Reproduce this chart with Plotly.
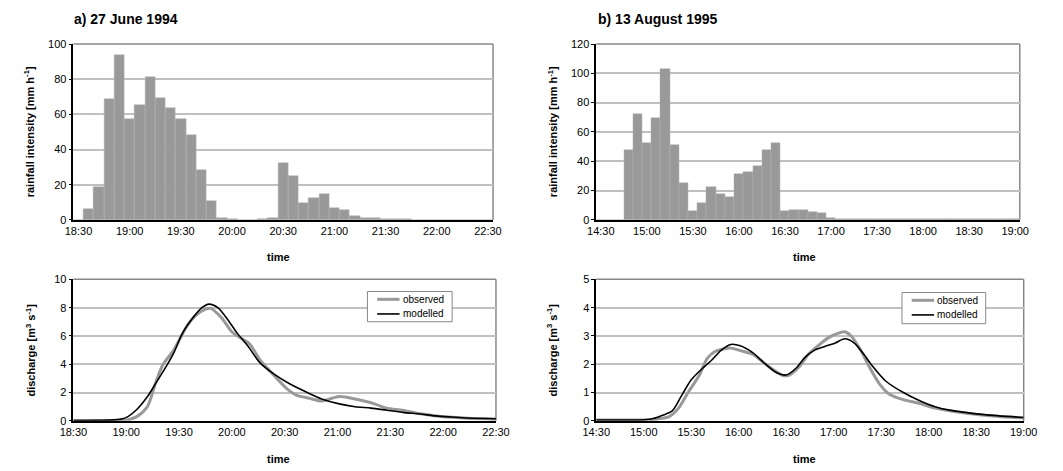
import plotly.graph_objects as go
import pandas as pd

W, H = 1063, 471

# ---------------- data ----------------
# rainfall, 6-minute intervals
rain_a_cat = [t.strftime("%H:%M") for t in pd.date_range("1994-06-27 18:30", "1994-06-27 22:30", freq="6min")]
rain_a = [0, 6, 18.5, 68.5, 93.5, 57.5, 65.5, 81.5, 69.5, 63.5, 57.5, 48, 28.5, 10.5, 1, 0.3,
          0.2, 0.2, 0.3, 1, 32.5, 25, 9.5, 12.5, 14.5, 7, 5.5, 2.2, 1.3, 1, 0.4,
          0.3, 0.3, 0.2, 0.2, 0.2, 0.2, 0.2, 0.2, 0.2, 0.2]
rain_b_cat = [t.strftime("%H:%M") for t in pd.date_range("1995-08-13 14:30", "1995-08-13 19:00", freq="6min")]
rain_b = [0, 0, 0, 48, 72.5, 52.5, 69.5, 103, 51, 25, 6, 11.5, 22.5, 18, 15.5, 31, 33, 37, 47.5,
          52.5, 6, 6.5, 7, 5.5, 4.5, 1, 0.8, 0.6, 0.6, 0.8, 0.8, 0.5,
          0.3, 0.3, 0.3, 0.3, 0.3, 0.3, 0.3, 0.3, 0.3, 0.3, 0.3, 0.3, 0.3, 0.3]
ticks_a = ["18:30", "19:00", "19:30", "20:00", "20:30", "21:00", "21:30", "22:00", "22:30"]
ticks_b = ["14:30", "15:00", "15:30", "16:00", "16:30", "17:00", "17:30", "18:00", "18:30", "19:00"]

# discharge
obs_a_t = ["18:30", "18:50", "19:00", "19:06", "19:12", "19:17", "19:21", "19:27", "19:34", "19:39",
           "19:45", "19:48", "19:54", "20:00", "20:05", "20:10", "20:16", "20:24", "20:31", "20:37",
           "20:44", "20:51", "20:57", "21:01", "21:08", "21:15", "21:21", "21:28", "21:37", "21:47",
           "21:56", "22:05", "22:14", "22:30"]
obs_a = [0.02, 0.02, 0.05, 0.3, 1.0, 2.8, 4.0, 5.0, 6.6, 7.4,
         7.9, 7.95, 7.3, 6.3, 5.85, 5.45, 4.3, 3.2, 2.3, 1.8,
         1.6, 1.4, 1.6, 1.72, 1.6, 1.4, 1.2, 0.9, 0.75, 0.5,
         0.35, 0.25, 0.18, 0.12]
mod_a_t = ["18:30", "18:50", "18:57", "19:01", "19:06", "19:12", "19:17", "19:23", "19:27", "19:32",
           "19:38", "19:43", "19:47", "19:52", "19:58", "20:03", "20:09", "20:16", "20:24", "20:33",
           "20:42", "20:51", "21:01", "21:10", "21:19", "21:28", "21:37", "21:47", "21:56", "22:05",
           "22:14", "22:30"]
mod_a = [0.02, 0.05, 0.12, 0.3, 0.8, 1.7, 2.7, 3.9, 4.8, 6.2,
         7.3, 8.0, 8.25, 8.0, 7.1, 6.2, 5.3, 4.1, 3.3, 2.6,
         2.05, 1.55, 1.2, 1.0, 0.9, 0.75, 0.6, 0.48, 0.35, 0.27,
         0.2, 0.15]
obs_b_t = ["14:30", "15:05", "15:10", "15:16", "15:22", "15:28", "15:35", "15:40", "15:45", "15:51",
           "15:55", "16:03", "16:09", "16:16", "16:22", "16:28", "16:32", "16:38", "16:44", "16:50",
           "16:57", "17:03", "17:07", "17:11", "17:17", "17:23", "17:29", "17:35", "17:44", "17:54",
           "18:04", "18:14", "18:35", "19:00"]
obs_b = [0.03, 0.04, 0.08, 0.15, 0.45, 1.0, 1.6, 2.2, 2.45, 2.55,
         2.57, 2.45, 2.35, 2.05, 1.8, 1.6, 1.62, 1.9, 2.35, 2.65,
         2.95, 3.1, 3.15, 3.0, 2.5, 1.85, 1.3, 0.95, 0.75, 0.62,
         0.45, 0.35, 0.2, 0.1]
mod_b_t = ["14:30", "15:00", "15:06", "15:12", "15:18", "15:24", "15:30", "15:37", "15:43", "15:49",
           "15:55", "16:01", "16:09", "16:16", "16:24", "16:30", "16:36", "16:42", "16:48", "16:54",
           "17:01", "17:07", "17:13", "17:19", "17:25", "17:33", "17:44", "17:54", "18:04", "18:14",
           "18:35", "19:00"]
mod_b = [0.03, 0.04, 0.08, 0.2, 0.35, 0.9, 1.45, 1.85, 2.15, 2.5,
         2.7, 2.65, 2.4, 2.05, 1.7, 1.62, 1.85, 2.25, 2.5, 2.62,
         2.75, 2.9, 2.75, 2.35, 1.9, 1.4, 1.0, 0.72, 0.5, 0.37,
         0.22, 0.12]

date_a, date_b = "1994-06-27 ", "1995-08-13 "
series_names = ["observed", "modelled"]

# ---------------- figure ----------------
FONT = "Liberation Sans, Arial, sans-serif"
BAR = "#999999"
GRID = "#c0c0c0"
BORDER = "#888888"
OBS_STYLE = dict(color="#999999", width=3)
MOD_STYLE = dict(color="#000000", width=1.6)

def px_x(v):
    return v / W

def px_y(v):
    return 1 - v / H

fig = go.Figure()

fig.add_trace(go.Bar(x=rain_a_cat, y=rain_a, xaxis="x", yaxis="y", marker=dict(color=BAR, line=dict(color="#b4b4b4", width=0.5)), showlegend=False))
fig.add_trace(go.Bar(x=rain_b_cat, y=rain_b, xaxis="x2", yaxis="y2", marker=dict(color=BAR, line=dict(color="#b4b4b4", width=0.5)), showlegend=False))

fig.add_trace(go.Scatter(x=[date_a + t for t in obs_a_t], y=obs_a, xaxis="x3", yaxis="y3", mode="lines",
                         line=dict(**OBS_STYLE, shape="spline", smoothing=0.8), name=series_names[0], showlegend=False))
fig.add_trace(go.Scatter(x=[date_a + t for t in mod_a_t], y=mod_a, xaxis="x3", yaxis="y3", mode="lines",
                         line=dict(**MOD_STYLE, shape="spline", smoothing=0.8), name=series_names[1], showlegend=False))
fig.add_trace(go.Scatter(x=[date_b + t for t in obs_b_t], y=obs_b, xaxis="x4", yaxis="y4", mode="lines",
                         line=dict(**OBS_STYLE, shape="spline", smoothing=0.8), name=series_names[0], showlegend=False))
fig.add_trace(go.Scatter(x=[date_b + t for t in mod_b_t], y=mod_b, xaxis="x4", yaxis="y4", mode="lines",
                         line=dict(**MOD_STYLE, shape="spline", smoothing=0.8), name=series_names[1], showlegend=False))

tickfont = dict(family=FONT, size=11, color="#000000")

def yax(domain, anchor, rng, dtick):
    return dict(domain=domain, anchor=anchor, range=rng, dtick=dtick, showgrid=True, gridcolor=GRID, gridwidth=1.5,
                showline=True, linecolor="#000000", linewidth=1.5, ticks="outside", ticklen=3, tickcolor="#000000",
                tickfont=tickfont, zeroline=False, fixedrange=True)

def xcat(domain, anchor, cats, tv):
    return dict(domain=domain, anchor=anchor, type="category", categoryorder="array", categoryarray=cats,
                range=[-0.5, len(cats) - 0.5], tickmode="array", tickvals=tv, ticktext=tv, showgrid=False,
                showline=True, linecolor="#000000", linewidth=2, ticks="", tickfont=tickfont)

def xdate(domain, anchor, d, t0, t1):
    return dict(domain=domain, anchor=anchor, type="date", range=[d + t0, d + t1], dtick=30 * 60 * 1000,
                tick0=d + t0, tickformat="%H:%M", showgrid=False, showline=True, linecolor="#000000", linewidth=2,
                ticks="", tickfont=tickfont)

xa_top = [px_x(61), px_x(492)]
xb_top = [px_x(598), px_x(1033)]
xa_bot = [px_x(61), px_x(495)]
xb_bot = [px_x(598), px_x(1037)]
y_top = [px_y(219.5), px_y(39)]
y_bot = [px_y(425.7), px_y(280.5)]

fig.update_layout(
    width=W, height=H, margin=dict(l=0, r=0, t=0, b=0),
    paper_bgcolor="white", plot_bgcolor="white", bargap=0, showlegend=False,
    font=dict(family=FONT, color="#000000"),
    xaxis=xcat(xa_top, "y", rain_a_cat, ticks_a),
    yaxis=yax(y_top, "x", [0, 100], 20),
    xaxis2=xcat(xb_top, "y2", rain_b_cat, ticks_b),
    yaxis2=yax(y_top, "x2", [0, 120], 20),
    xaxis3=xdate(xa_bot, "y3", date_a, "18:30", "22:30"),
    yaxis3=yax(y_bot, "x3", [0, 10], 2),
    xaxis4=xdate(xb_bot, "y4", date_b, "14:30", "19:00"),
    yaxis4=yax(y_bot, "x4", [0, 5], 1),
)

shapes = []
# gray top/right frame of each plot area
for xr, yr in [("x", "y"), ("x2", "y2"), ("x3", "y3"), ("x4", "y4")]:
    shapes.append(dict(type="line", xref=xr + " domain", yref=yr + " domain", x0=0, x1=1, y0=1, y1=1,
                       line=dict(color=BORDER, width=1.5), layer="below"))
    shapes.append(dict(type="line", xref=xr + " domain", yref=yr + " domain", x0=1, x1=1, y0=0, y1=1,
                       line=dict(color=BORDER, width=1.5), layer="below"))

ann = []
# legend boxes (Excel-style, drawn in paper space)
for (bx0, bx1, by0, by1) in [(363, 450, 293, 324), (912, 998, 294, 326)]:
    shapes.append(dict(type="rect", xref="paper", yref="paper", x0=px_x(bx0), x1=px_x(bx1),
                       y0=px_y(by1), y1=px_y(by0), fillcolor="white", line=dict(color=BORDER, width=1), layer="above"))
    ys = [by0 + 8, by0 + 23]
    for name, style, yy in zip(series_names, [OBS_STYLE, MOD_STYLE], ys):
        shapes.append(dict(type="line", xref="paper", yref="paper", x0=px_x(bx0 + 10), x1=px_x(bx0 + 33),
                           y0=px_y(yy), y1=px_y(yy), line=style, layer="above"))
        ann.append(dict(text=name, x=px_x(bx0 + 34), y=px_y(yy), xref="paper", yref="paper",
                        xanchor="left", yanchor="middle", showarrow=False,
                        font=dict(family=FONT, size=10, color="#000000")))
fig.update_layout(shapes=shapes)

bold11 = dict(family=FONT, size=11, color="#000000")
ann.append(dict(text="<b>a) 27 June 1994</b>", x=px_x(60), y=px_y(13), xref="paper", yref="paper",
                xanchor="left", yanchor="middle", showarrow=False, font=dict(family=FONT, size=14)))
ann.append(dict(text="<b>b) 13 August 1995</b>", x=px_x(598), y=px_y(13), xref="paper", yref="paper",
                xanchor="left", yanchor="middle", showarrow=False, font=dict(family=FONT, size=14)))
for xc, yc, txt in [(15, 129, "rainfall intensity [mm h<sup>-1</sup>]"),
                    (553, 129, "rainfall intensity [mm h<sup>-1</sup>]"),
                    (17, 353, "discharge [m<sup>3</sup> s<sup>-1</sup>]"),
                    (553, 353, "discharge [m<sup>3</sup> s<sup>-1</sup>]")]:
    ann.append(dict(text="<b>" + txt + "</b>", x=px_x(xc), y=px_y(yc), xref="paper", yref="paper",
                    xanchor="center", yanchor="middle", textangle=-90, showarrow=False, font=bold11))
for xc, yc in [(272, 258), (812, 258), (272, 465), (812, 465)]:
    ann.append(dict(text="<b>time</b>", x=px_x(xc), y=px_y(yc), xref="paper", yref="paper",
                    xanchor="center", yanchor="middle", showarrow=False, font=dict(family=FONT, size=11)))
fig.update_layout(annotations=ann)

fig.write_html("out.html", config=dict(displayModeBar=False))
